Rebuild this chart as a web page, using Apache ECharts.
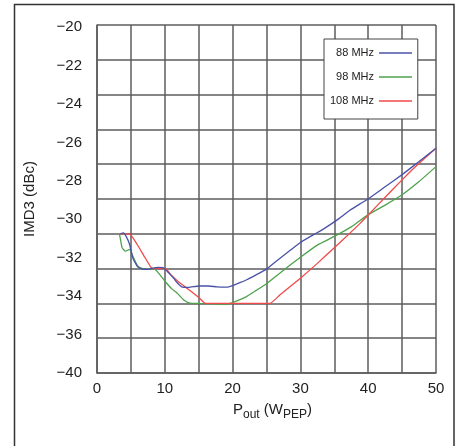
<!DOCTYPE html>
<html>
<head>
<meta charset="utf-8">
<script src="https://cdn.jsdelivr.net/npm/echarts@6/dist/echarts.min.js"></script>
<style>html,body{margin:0;padding:0;background:#fff;}#c{width:460px;height:446px;}</style>
</head>
<body>
<div id="c"></div>
<script>
// Series names
var seriesNames = ['88 MHz', '98 MHz', '108 MHz'];
// x: Pout (W PEP), y: IMD3 (dBc), read on the grid scale
var mhz88 = [[3.45,-32],[3.9,-31.95],[4.3,-32.15],[4.8,-32.6],[5.3,-33.4],[6.0,-33.9],[6.7,-34.02],[7.4,-34.05],[8.2,-33.97],[9.0,-33.93],[9.8,-33.95],[10.6,-34.26],[11.3,-34.55],[11.8,-34.8],[12.5,-35.05],[13.5,-35.08],[15,-35.0],[16.5,-35.0],[17.7,-35.05],[19.3,-35.06],[20,-34.98],[21,-34.82],[22.1,-34.64],[23.5,-34.35],[25,-34.03],[27,-33.4],[28.5,-32.95],[30,-32.5],[31.9,-32.06],[33.5,-31.7],[35.8,-31.1],[37.3,-30.65],[38.8,-30.28],[40,-30.0],[42.5,-29.3],[45,-28.6],[47.5,-27.85],[50,-27.08]];
var mhz98 = [[3.3,-32],[3.5,-32.4],[3.7,-32.8],[4.2,-33.0],[4.8,-32.9],[5.3,-33.3],[6.0,-33.85],[6.7,-34.0],[7.4,-34.05],[8.4,-34.0],[8.9,-34.17],[10.06,-34.74],[11,-35.15],[11.8,-35.4],[12.8,-35.8],[13.7,-35.98],[15,-36.0],[17,-36.02],[19,-36.05],[20,-35.95],[21,-35.8],[22.1,-35.6],[23.5,-35.25],[25,-34.87],[27,-34.25],[30,-33.35],[32.5,-32.65],[35,-32.15],[37.5,-31.6],[40,-30.9],[42.5,-30.35],[45,-29.76],[47.5,-29.0],[50,-28.14]];
var mhz108 = [[3.45,-32],[4,-32],[4.8,-32],[5.9,-32.6],[6.9,-33.25],[8.0,-33.95],[8.3,-34.0],[10.1,-34.0],[11,-34.4],[12,-34.75],[13,-35.05],[14,-35.35],[15,-35.65],[16,-36.0],[20,-36.0],[25.5,-36.0],[27,-35.5],[30,-34.55],[32.5,-33.7],[35,-32.8],[37.3,-31.96],[38.8,-31.4],[40,-30.92],[42.5,-29.9],[45,-28.9],[47.5,-27.95],[50,-27.08]];
// Tick labels as printed on the reference's y axis (top to bottom)
var yTickLabels = ['\u221220','\u221222','\u221224','\u221226','\u221228','\u221230','\u221232','\u221234','\u221236','\u221240'];
var xTickLabels = ['0','10','20','30','40','50'];
var colors = ['#4a52a8', '#4ea24e', '#f04a4a'];

var chart = echarts.init(document.getElementById('c'), null, {renderer: 'canvas'});
var font = 'Liberation Sans, Arial, Helvetica, sans-serif';
var gridColor = '#5c5c5c';

var datasets = [mhz88, mhz98, mhz108];
var series = datasets.map(function (d, i) {
  return {
    name: seriesNames[i], type: 'line', data: d, xAxisIndex: 0, yAxisIndex: 0,
    symbol: 'none', smooth: 0.15, lineStyle: {color: colors[i], width: 1.3}, itemStyle: {color: colors[i]},
    z: 3 + (i === 0 ? 1 : 0)
  };
});

chart.setOption({
  backgroundColor: '#fff',
  animation: false,
  textStyle: {fontFamily: font},
  grid: {left: 97, right: 24, top: 25, bottom: 73, containLabel: false},
  legend: {
    orient: 'vertical', align: 'right', left: 324, top: 39,
    data: seriesNames, itemWidth: 33, itemHeight: 10, itemGap: 10,
    padding: [7, 5, 11, 6],
    itemStyle: {opacity: 0},
    lineStyle: {width: 1.5},
    backgroundColor: '#fff', borderColor: '#444', borderWidth: 1,
    textStyle: {fontSize: 11, color: '#222', fontFamily: font, lineHeight: 14}
  },
  xAxis: [{
    type: 'value', min: 0, max: 50, interval: 5,
    name: '{a|P}{b|out}{a| (W}{b|PEP}{a|)}', nameLocation: 'middle', nameGap: 29,
    nameTextStyle: {
      padding: [0, 0, 0, 12],
      rich: {
        a: {fontSize: 15, color: '#222', fontFamily: font, verticalAlign: 'top', lineHeight: 18},
        b: {fontSize: 12, color: '#222', fontFamily: font, verticalAlign: 'top', lineHeight: 14, padding: [7, 0, 0, 0]}
      }
    },
    axisLine: {show: true, lineStyle: {color: gridColor, width: 1.5}},
    axisTick: {show: false},
    axisLabel: {
      fontSize: 15, color: '#222', margin: 8, fontFamily: font,
      formatter: function (v) {
        var idx = xTickLabels.indexOf(String(v));
        return idx >= 0 ? xTickLabels[idx] : '';
      }
    },
    splitLine: {show: true, lineStyle: {color: gridColor, width: 1.5}}
  }],
  yAxis: [{
    type: 'value', min: -40, max: -20, interval: 2,
    axisLine: {show: true, lineStyle: {color: gridColor, width: 1.5}},
    axisTick: {show: false},
    axisLabel: {show: false},
    splitLine: {show: true, lineStyle: {color: gridColor, width: 1.5}}
  }, {
    type: 'value', position: 'left', min: -38, max: -19.88, interval: 2,
    name: 'IMD3 (dBc)', nameLocation: 'middle', nameGap: 60,
    nameTextStyle: {fontSize: 15, color: '#222', fontFamily: font, padding: [0, 0, 0, 0]},
    axisLine: {show: false}, axisTick: {show: false}, splitLine: {show: false},
    axisLabel: {
      fontSize: 15, color: '#222', margin: 15, fontFamily: font, showMaxLabel: true,
      formatter: function (v) {
        if (Math.abs(v - Math.round(v)) > 0.01) return '';
        var k = Math.round((-20 - v) / 2);
        return k >= 0 && k < yTickLabels.length ? yTickLabels[k] : '';
      }
    }
  }],
  graphic: [{
    type: 'polyline', silent: true, z: 10,
    shape: {points: [[14.5, 446], [14.5, 4.5], [454, 4.5], [454, 446]]},
    style: {stroke: '#333', lineWidth: 1.5, fill: null}
  }],
  series: series
});
</script>
</body>
</html>
